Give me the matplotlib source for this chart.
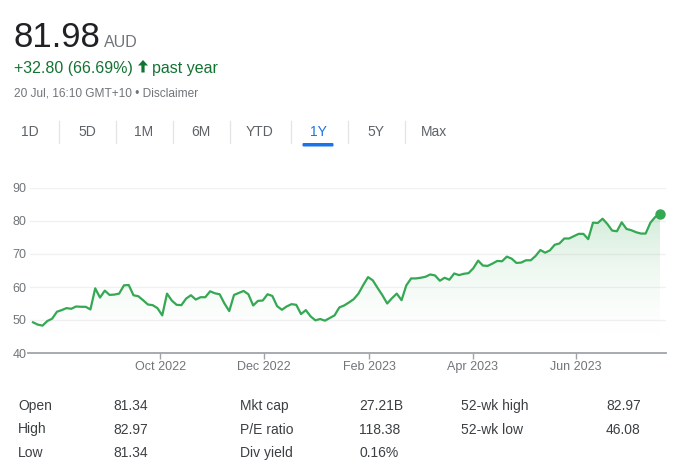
import numpy as np
import pandas as pd
import matplotlib
matplotlib.use("Agg")
import matplotlib.pyplot as plt
from matplotlib.patches import Polygon, FancyBboxPatch
from matplotlib.colors import to_rgb

plt.rcParams['font.family'] = ['Liberation Sans', 'DejaVu Sans']

# ---------------- data ----------------
price_now = "81.98"
currency = "AUD"
change_text = "+32.80 (66.69%)"
period_text = "past year"
timestamp_text = "20 Jul, 16:10 GMT+10 \u2022 Disclaimer"
tabs = ["1D", "5D", "1M", "6M", "YTD", "1Y", "5Y", "Max"]
selected_tab = "1Y"

start_date = "2022-07-20"
end_date = "2023-07-20"
prices = [
    49.3, 48.6, 48.3, 49.7, 50.4, 52.5, 53.0, 53.6, 53.4, 54.1, 54.0, 54.0, 53.2, 59.6,
    56.8, 58.9, 57.6, 57.7, 58.0, 60.5, 60.6, 57.5, 57.2, 56.0, 54.7, 54.5, 53.6, 51.4,
    58.0, 55.9, 54.6, 54.5, 56.5, 57.5, 56.2, 56.9, 56.9, 58.7, 58.1, 57.8, 55.0, 52.7,
    57.6, 58.2, 58.8, 57.8, 54.4, 55.8, 55.9, 57.8, 57.3, 54.2, 53.1, 54.1, 54.8, 54.6,
    51.8, 53.0, 51.1, 49.9, 50.3, 49.8, 50.6, 51.4, 53.8, 54.4, 55.3, 56.3, 58.0, 60.6,
    63.0, 62.0, 59.7, 57.5, 55.0, 56.6, 58.0, 56.0, 60.5, 62.6, 62.6, 62.8, 63.1, 63.8,
    63.5, 61.9, 62.8, 62.2, 64.1, 63.6, 64.0, 64.2, 65.7, 68.0, 66.5, 66.4, 67.1, 67.9,
    67.8, 69.2, 68.6, 67.3, 67.4, 68.1, 68.1, 69.4, 71.2, 70.4, 71.1, 72.8, 73.2, 74.7,
    74.7, 75.4, 76.1, 76.1, 74.5, 79.5, 79.4, 80.7, 79.1, 77.1, 76.9, 79.6, 77.6, 77.2,
    76.6, 76.2, 76.2, 79.5, 81.2, 81.98,
]
y_ticks = [40, 50, 60, 70, 80, 90]
month_ticks = ["2022-10", "2022-12", "2023-02", "2023-04", "2023-06"]

stats_col1 = [("Open", "81.34"), ("High", "82.97"), ("Low", "81.34")]
stats_col2 = [("Mkt cap", "27.21B"), ("P/E ratio", "118.38"), ("Div yield", "0.16%")]
stats_col3 = [("52-wk high", "82.97"), ("52-wk low", "46.08")]

# ---------------- styling ----------------
W, H = 679, 468
GREEN = "#34a853"
DARK = "#202124"
GREY = "#70757a"

fig = plt.figure(figsize=(W / 100, H / 100), dpi=100)
fig.patch.set_facecolor("white")


def fx(px):
    return px / W


def fy(py):
    return 1 - py / H


# ---------------- header ----------------
fig.text(fx(13), fy(47), price_now, fontsize=25, color=DARK, va="baseline", ha="left")
fig.text(fx(104), fy(47), currency, fontsize=11.5, color=GREY, va="baseline", ha="left")
fig.text(fx(14), fy(72.5), change_text, fontsize=11.5, color="#137333", va="baseline", ha="left")
# up arrow icon
arrow = Polygon([(fx(143), fy(60)), (fx(148), fy(65.5)), (fx(144.6), fy(65.5)), (fx(144.6), fy(72.5)),
                 (fx(141.4), fy(72.5)), (fx(141.4), fy(65.5)), (fx(138), fy(65.5))],
                closed=True, transform=fig.transFigure, facecolor="#137333", edgecolor="none")
fig.patches.append(arrow)
fig.text(fx(152.5), fy(72.5), period_text, fontsize=11.5, color="#137333", va="baseline", ha="left")
fig.text(fx(14), fy(96.5), timestamp_text, fontsize=8.6, color=GREY, va="baseline", ha="left")

# ---------------- tabs ----------------
tab_centers = [30, 87, 144, 201, 260, 318, 376, 434]
separators = [58.5, 115.7, 172.5, 229.5, 290.5, 347.5, 404.5]
for t, cx in zip(tabs, tab_centers):
    col = "#1a73e8" if t == selected_tab else "#5f6368"
    fig.text(fx(cx), fy(132.5), t, fontsize=10, color=col, ha="center", va="center")
for sx in separators:
    fig.add_artist(plt.Line2D([fx(sx), fx(sx)], [fy(121), fy(142.5)], color="#e3e4e6", lw=0.9,
                              transform=fig.transFigure))
sel_cx = tab_centers[tabs.index(selected_tab)]
bar = FancyBboxPatch((fx(sel_cx - 15.5), fy(146.5)), fx(31), 3.5 / H,
                     boxstyle="round,pad=0,rounding_size=0.002", transform=fig.transFigure,
                     facecolor="#1a73e8", edgecolor="none")
fig.patches.append(bar)

# ---------------- chart ----------------
ax_left, ax_right, ax_bottom, ax_top = 28, 666, 353, 188
ax = fig.add_axes([fx(ax_left), fy(ax_bottom), fx(ax_right - ax_left), (ax_bottom - ax_top) / H])

bdays = pd.bdate_range(start_date, end_date)
n = len(bdays)
x = np.linspace(0, n - 1, len(prices))
y = np.array(prices)

data_left_px, data_right_px = 33, 660
ppu = (data_right_px - data_left_px) / (n - 1)
xmin = -(data_left_px - ax_left) / ppu
xmax = (n - 1) + (ax_right - data_right_px) / ppu

# gradient fill
verts = [(x[0], y_ticks[0])] + list(zip(x, y)) + [(x[-1], y_ticks[0])]
poly = Polygon(verts, closed=True, facecolor="none", edgecolor="none")
ax.add_patch(poly)
gy = np.linspace(y_ticks[0], y_ticks[-1], 256)
rgba = np.zeros((256, 1, 4))
rgba[..., :3] = to_rgb(GREEN)
rgba[..., 3] = (0.26 * ((gy - 40) / 45) ** 2).clip(0, 0.3)[:, None]
im = ax.imshow(rgba, extent=[x[0], x[-1], y_ticks[0], y_ticks[-1]], origin="lower",
               aspect="auto", zorder=1, interpolation="bilinear")
im.set_clip_path(poly)

ax.plot(x, y, color=GREEN, lw=1.6, zorder=3, solid_joinstyle="round")
ax.plot([x[-1]], [y[-1]], "o", color=GREEN, markersize=6.5, zorder=4, clip_on=False)

ax.set_xlim(xmin, xmax)
ax.set_ylim(y_ticks[0], y_ticks[-1])
ax.set_facecolor("none")
for s in ["top", "right", "left"]:
    ax.spines[s].set_visible(False)
ax.spines["bottom"].set_color("#a0a4a8")
ax.spines["bottom"].set_linewidth(1.3)
ax.spines["bottom"].set_zorder(5)

ax.set_yticks(y_ticks)
ax.set_yticklabels([str(v) for v in y_ticks])
for v in y_ticks[1:]:
    ax.axhline(v, color="#f1f1f1", lw=1, zorder=0, xmin=(30 - ax_left) / (ax_right - ax_left))
ax.tick_params(axis="y", length=0, pad=1.2, labelsize=9, labelcolor=GREY)

tick_pos = []
tick_lab = []
for m in month_ticks:
    per = pd.Period(m, freq="M")
    idx = int(np.argmax(bdays >= per.start_time))
    tick_pos.append(idx)
    tick_lab.append(per.strftime("%b %Y"))
ax.set_xticks(tick_pos)
ax.set_xticklabels(tick_lab)
ax.tick_params(axis="x", length=4.5, width=1, color="#a0a4a8", pad=1.5, labelsize=9,
               labelcolor=GREY, direction="out")

# ---------------- stats table ----------------
rows_y = [406, 429.5, 453]
cols = [(18, 113, stats_col1), (240, 359, stats_col2), (461, 606, stats_col3)]
for lx, vx, items in cols:
    for (lab, val), ry in zip(items, rows_y):
        fig.text(fx(lx), fy(ry), lab, fontsize=10, color="#3c4043", ha="left", va="center")
        fig.text(fx(vx), fy(ry), val, fontsize=10, color="#3c4043", ha="left", va="center")

fig.savefig("out.png", dpi=100, facecolor="white")
